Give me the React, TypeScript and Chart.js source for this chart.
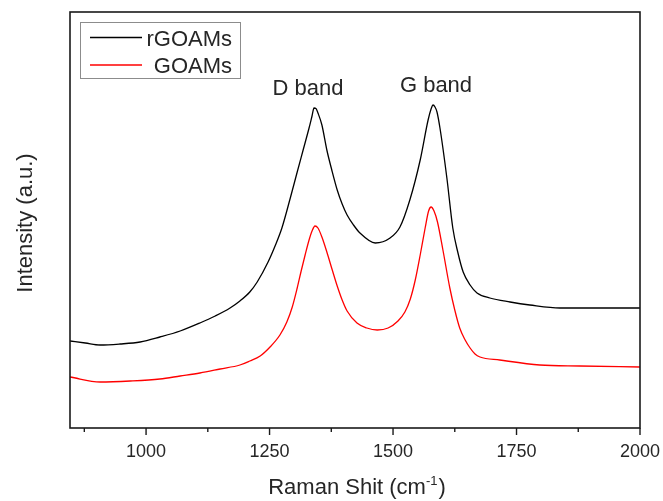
import React, { useEffect, useRef } from "react";
import { Chart, registerables } from "chart.js";

Chart.register(...registerables);

// Raman shift (cm^-1) and intensity (a.u.) for rGOAMs
const rgoWave = [846, 877, 907, 947, 988, 1028, 1069, 1109, 1140, 1170, 1190, 1210, 1225, 1247, 1262, 1275, 1292, 1306, 1318, 1330, 1336, 1340, 1344, 1348, 1356, 1366, 1376, 1387, 1397, 1407, 1420, 1433, 1464, 1494, 1514, 1534, 1555, 1571, 1577, 1581, 1585, 1589, 1595, 1609, 1621, 1631, 1642, 1656, 1670, 1696, 1737, 1777, 1838, 1919, 2000];
const rgoIntensity = [870, 850, 830, 840, 860, 910, 970, 1050, 1120, 1200, 1270, 1360, 1460, 1660, 1830, 2000, 2300, 2560, 2780, 3000, 3120, 3200, 3195, 3150, 3030, 2780, 2580, 2380, 2240, 2130, 2030, 1950, 1850, 1900, 2010, 2280, 2680, 3080, 3190, 3230, 3210, 3160, 3000, 2500, 2000, 1760, 1560, 1430, 1350, 1300, 1260, 1230, 1200, 1200, 1200];

// Raman shift (cm^-1) and intensity (a.u.) for GOAMs
const goWave = [846, 907, 968, 1028, 1069, 1109, 1150, 1190, 1210, 1231, 1251, 1271, 1285, 1296, 1306, 1314, 1322, 1330, 1336, 1342, 1348, 1356, 1366, 1377, 1387, 1397, 1407, 1427, 1447, 1468, 1490, 1510, 1524, 1535, 1545, 1555, 1565, 1572, 1577, 1583, 1590, 1601, 1615, 1625, 1635, 1646, 1656, 1666, 1676, 1716, 1797, 1878, 2000];
const goIntensity = [510, 460, 470, 490, 520, 550, 590, 630, 670, 720, 810, 930, 1060, 1210, 1400, 1570, 1730, 1880, 1970, 2020, 2000, 1910, 1760, 1580, 1420, 1280, 1170, 1050, 1000, 980, 1000, 1070, 1160, 1290, 1480, 1730, 2000, 2170, 2210, 2170, 2060, 1780, 1400, 1180, 1000, 880, 800, 740, 710, 680, 630, 620, 610];

const seriesNames = ["rGOAMs", "GOAMs"];
const seriesColors = ["#000000", "#ff0000"];
const majorTicks = [1000, 1250, 1500, 1750, 2000];
const minorTicks = [875, 1125, 1375, 1625, 1875];
const bandLabels = ["D band", "G band"];
const xTitle = "Raman Shit (cm";
const xTitleSup = "-1";
const yTitle = "Intensity (a.u.)";

const FONT = '"Liberation Sans", Arial, Helvetica, sans-serif';
const TEXT = "#262626";

const decorPlugin = {
  id: "decor",
  afterDraw(chart: any) {
    const { ctx, chartArea } = chart;
    const { left, right, top, bottom } = chartArea;
    const x = chart.scales.x;
    ctx.save();
    // frame
    ctx.strokeStyle = "#1a1a1a";
    ctx.lineWidth = 1.6;
    ctx.strokeRect(left, top, right - left, bottom - top);
    // ticks
    ctx.lineWidth = 1.4;
    majorTicks.forEach((v) => {
      const px = x.getPixelForValue(v);
      ctx.beginPath();
      ctx.moveTo(px, bottom);
      ctx.lineTo(px, bottom + 7);
      ctx.stroke();
    });
    minorTicks.forEach((v) => {
      const px = x.getPixelForValue(v);
      ctx.beginPath();
      ctx.moveTo(px, bottom);
      ctx.lineTo(px, bottom + 4);
      ctx.stroke();
    });
    ctx.fillStyle = TEXT;
    ctx.font = `18px ${FONT}`;
    ctx.textAlign = "center";
    ctx.textBaseline = "alphabetic";
    majorTicks.forEach((v) => {
      ctx.fillText(String(v), x.getPixelForValue(v), 457);
    });
    // x title with superscript
    ctx.font = `22px ${FONT}`;
    const w1 = ctx.measureText(xTitle).width;
    const w3 = ctx.measureText(")").width;
    ctx.font = `13px ${FONT}`;
    const w2 = ctx.measureText(xTitleSup).width;
    const total = w1 + w2 + w3 + 1;
    let sx = 357 - total / 2;
    ctx.textAlign = "left";
    ctx.font = `22px ${FONT}`;
    ctx.fillText(xTitle, sx, 494);
    sx += w1;
    ctx.font = `13px ${FONT}`;
    ctx.fillText(xTitleSup, sx, 485);
    sx += w2 + 1;
    ctx.font = `22px ${FONT}`;
    ctx.fillText(")", sx, 494);
    // y title
    ctx.save();
    ctx.translate(32, 223);
    ctx.rotate(-Math.PI / 2);
    ctx.textAlign = "center";
    ctx.fillText(yTitle, 0, 0);
    ctx.restore();
    // band labels
    ctx.textAlign = "center";
    ctx.fillText(bandLabels[0], 308, 95);
    ctx.fillText(bandLabels[1], 436, 92);
    // legend
    ctx.strokeStyle = "#8c8c8c";
    ctx.lineWidth = 1;
    ctx.strokeRect(80.5, 22.5, 160, 56);
    const rows = [37.5, 65];
    const baselines = [45.5, 72.5];
    seriesNames.forEach((name, i) => {
      ctx.strokeStyle = seriesColors[i];
      ctx.lineWidth = 1.6;
      ctx.beginPath();
      ctx.moveTo(90, rows[i]);
      ctx.lineTo(142, rows[i]);
      ctx.stroke();
      ctx.fillStyle = TEXT;
      ctx.textAlign = "right";
      ctx.fillText(name, 232, baselines[i]);
    });
    ctx.restore();
  },
};

export default function App() {
  const canvasRef = useRef<HTMLCanvasElement | null>(null);

  useEffect(() => {
    if (!canvasRef.current) return;
    const mk = (wave: number[], vals: number[]) => wave.map((w, i) => ({ x: w, y: vals[i] }));
    const chart = new Chart(canvasRef.current, {
      type: "line",
      data: {
        datasets: [
          {
            label: seriesNames[0],
            data: mk(rgoWave, rgoIntensity),
            borderColor: seriesColors[0],
            borderWidth: 1.3,
            pointRadius: 0,
            cubicInterpolationMode: "monotone",
            fill: false,
          },
          {
            label: seriesNames[1],
            data: mk(goWave, goIntensity),
            borderColor: seriesColors[1],
            borderWidth: 1.3,
            pointRadius: 0,
            cubicInterpolationMode: "monotone",
            fill: false,
          },
        ],
      },
      options: {
        responsive: false,
        animation: false,
        layout: { padding: { left: 70, right: 23, top: 12, bottom: 73 } },
        scales: {
          x: { type: "linear", min: 846, max: 2000, display: false },
          y: { type: "linear", min: 0, max: 4160, display: false },
        },
        plugins: {
          legend: { display: false },
          tooltip: { enabled: false },
        },
      },
      plugins: [decorPlugin],
    });
    return () => chart.destroy();
  }, []);

  return (
    <div style={{ position: "absolute", left: 0, top: 0, width: 663, height: 501, background: "#fff" }}>
      <canvas ref={canvasRef} width={663} height={501} style={{ display: "block" }} />
    </div>
  );
}
